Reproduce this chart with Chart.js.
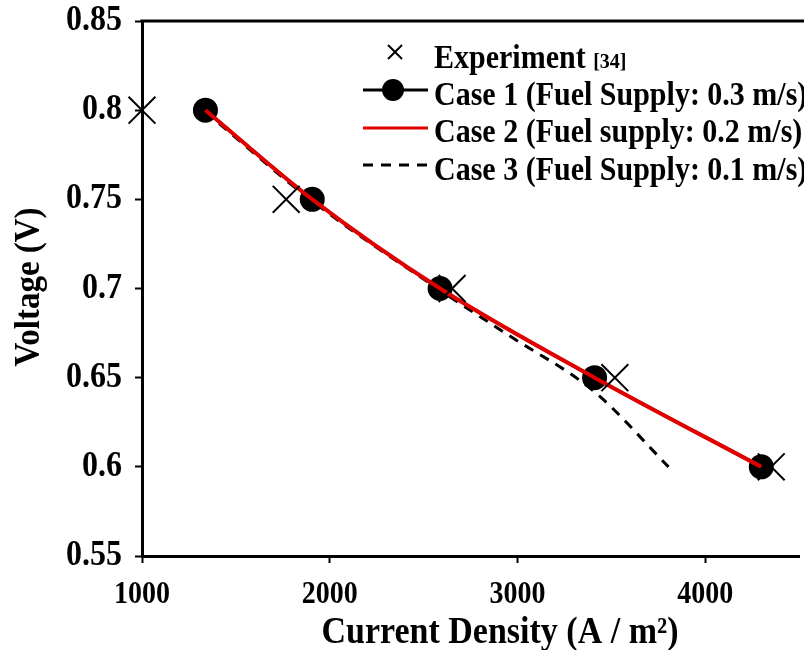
<!DOCTYPE html>
<html>
<head>
<meta charset="utf-8">
<script src="https://cdn.jsdelivr.net/npm/chart.js@4"></script>
<style>
  html, body { margin: 0; padding: 0; overflow: hidden; background: #fff; }
  canvas { display: block; }
</style>
</head>
<body>
<canvas id="chart" width="820" height="650"></canvas>
<script>
// values (current density in A/m2, voltage in V)
const expX = [1000, 1768, 2652, 3519, 4352];
const expY = [0.80, 0.75, 0.70, 0.65, 0.60];
const case1X = [1338, 1907, 2588, 3411, 4299];
const case1Y = [0.80, 0.75, 0.70, 0.65, 0.60];
const case2X = [1338, 1907, 2588, 3411, 4299];
const case2Y = [0.80, 0.75, 0.70, 0.65, 0.60];
const case3X = [1338, 1907, 2588, 2950, 3411, 3805];
const case3Y = [0.799, 0.749, 0.699, 0.674, 0.642, 0.60];
const xTicks = [1000, 2000, 3000, 4000];
const yTicks = [0.55, 0.6, 0.65, 0.7, 0.75, 0.8, 0.85];
const seriesNames = [
  'Experiment',
  'Case 1 (Fuel Supply: 0.3 m/s)',
  'Case 2 (Fuel supply: 0.2 m/s)',
  'Case 3 (Fuel Supply: 0.1 m/s)'
];
const xTitle = 'Current Density (A / m\u00B2)';
const yTitle = 'Voltage (V)';

const RED = '#e00000';
const FONT = '"Liberation Serif", "Times New Roman", serif';
const SY = 1.1; // the figure's lettering is a bit taller than normal Times

const pts = (xs, ys) => xs.map((x, i) => ({ x: x, y: ys[i] }));

function tallText(ctx, text, x, y, size, align, base, rot) {
  ctx.save();
  ctx.translate(x, y);
  if (rot) ctx.rotate(rot);
  ctx.scale(1, SY);
  ctx.font = 'bold ' + size + 'px ' + FONT;
  ctx.textAlign = align;
  ctx.textBaseline = base;
  ctx.fillText(text, 0, 0);
  const w = ctx.measureText(text).width;
  ctx.restore();
  return w;
}

// top frame line, tick labels, axis titles and the legend box
const extras = {
  id: 'extras',
  afterDraw(chart) {
    const ctx = chart.ctx;
    const a = chart.chartArea;
    const xs = chart.scales.x, ys = chart.scales.y;
    ctx.save();
    ctx.strokeStyle = '#000';
    ctx.fillStyle = '#000';
    ctx.lineWidth = 3;
    ctx.beginPath();
    ctx.moveTo(a.left - 1.5, a.top);
    ctx.lineTo(a.right + 10, a.top);
    ctx.stroke();

    xTicks.forEach(v => tallText(ctx, String(v), xs.getPixelForValue(v), 603, 28, 'center', 'alphabetic'));
    yTicks.forEach(v => tallText(ctx, String(+v.toFixed(2)), 122, ys.getPixelForValue(v), 32, 'right', 'middle'));

    tallText(ctx, xTitle, 500, 643, 34, 'center', 'alphabetic');
    tallText(ctx, yTitle, 39, 287, 33, 'center', 'alphabetic', -Math.PI / 2);

    // legend
    const tx = 434, x0 = 363, x1 = 428;
    const rows = [52, 90, 128, 165];
    const base = [68, 105, 142, 180];

    ctx.lineWidth = 2;
    ctx.beginPath();
    ctx.moveTo(388, rows[0] - 7); ctx.lineTo(402, rows[0] + 7);
    ctx.moveTo(402, rows[0] - 7); ctx.lineTo(388, rows[0] + 7);
    ctx.stroke();
    const w = tallText(ctx, seriesNames[0] + ' ', tx, base[0], 30, 'left', 'alphabetic');
    tallText(ctx, '[34]', tx + w, base[0], 20, 'left', 'alphabetic');

    ctx.lineWidth = 3;
    ctx.beginPath();
    ctx.moveTo(x0, rows[1]); ctx.lineTo(x1, rows[1]);
    ctx.stroke();
    ctx.beginPath();
    ctx.arc(393, rows[1], 11, 0, Math.PI * 2);
    ctx.fill();

    ctx.strokeStyle = RED;
    ctx.beginPath();
    ctx.moveTo(x0, rows[2]); ctx.lineTo(x1, rows[2]);
    ctx.stroke();

    ctx.strokeStyle = '#000';
    ctx.setLineDash([10, 8]);
    ctx.beginPath();
    ctx.moveTo(x0, rows[3]); ctx.lineTo(x1 + 2, rows[3]);
    ctx.stroke();
    ctx.setLineDash([]);

    for (let i = 1; i < 4; i++) tallText(ctx, seriesNames[i], tx, base[i], 30, 'left', 'alphabetic');
    ctx.restore();
  }
};

new Chart(document.getElementById('chart'), {
  type: 'scatter',
  data: {
    datasets: [
      {
        label: seriesNames[0],
        data: pts(expX, expY),
        showLine: false,
        pointStyle: 'crossRot',
        pointRadius: 19,
        borderColor: '#000',
        borderWidth: 2,
        clip: false,
        order: 0
      },
      {
        label: seriesNames[1],
        data: pts(case1X, case1Y),
        showLine: true,
        borderColor: '#000',
        backgroundColor: '#000',
        borderWidth: 3,
        pointRadius: 11,
        cubicInterpolationMode: 'monotone',
        order: 2
      },
      {
        label: seriesNames[2],
        data: pts(case2X, case2Y),
        showLine: true,
        borderColor: RED,
        borderWidth: 4,
        pointRadius: 0,
        cubicInterpolationMode: 'monotone',
        order: 1
      },
      {
        label: seriesNames[3],
        data: pts(case3X, case3Y),
        showLine: true,
        borderColor: '#000',
        borderWidth: 3,
        borderDash: [10, 8],
        pointRadius: 0,
        cubicInterpolationMode: 'monotone',
        order: 3
      }
    ]
  },
  options: {
    responsive: false,
    animation: false,
    layout: { padding: { top: 20, right: 5, left: 0, bottom: 0 } },
    plugins: { legend: { display: false }, tooltip: { enabled: false } },
    scales: {
      x: {
        type: 'linear',
        min: 1000,
        max: 4500,
        afterBuildTicks: s => { s.ticks = xTicks.map(v => ({ value: v })); },
        afterFit: s => { s.height = 94; },
        border: { color: '#000', width: 3 },
        grid: { drawOnChartArea: false, tickLength: 7, tickColor: '#000', tickWidth: 2 },
        ticks: { display: false }
      },
      y: {
        type: 'linear',
        min: 0.55,
        max: 0.85,
        afterBuildTicks: s => { s.ticks = yTicks.map(v => ({ value: v })); },
        afterFit: s => { s.width = 142; },
        border: { color: '#000', width: 3 },
        grid: { drawOnChartArea: false, tickLength: 7, tickColor: '#000', tickWidth: 2 },
        ticks: { display: false }
      }
    }
  },
  plugins: [extras]
});
</script>
</body>
</html>
